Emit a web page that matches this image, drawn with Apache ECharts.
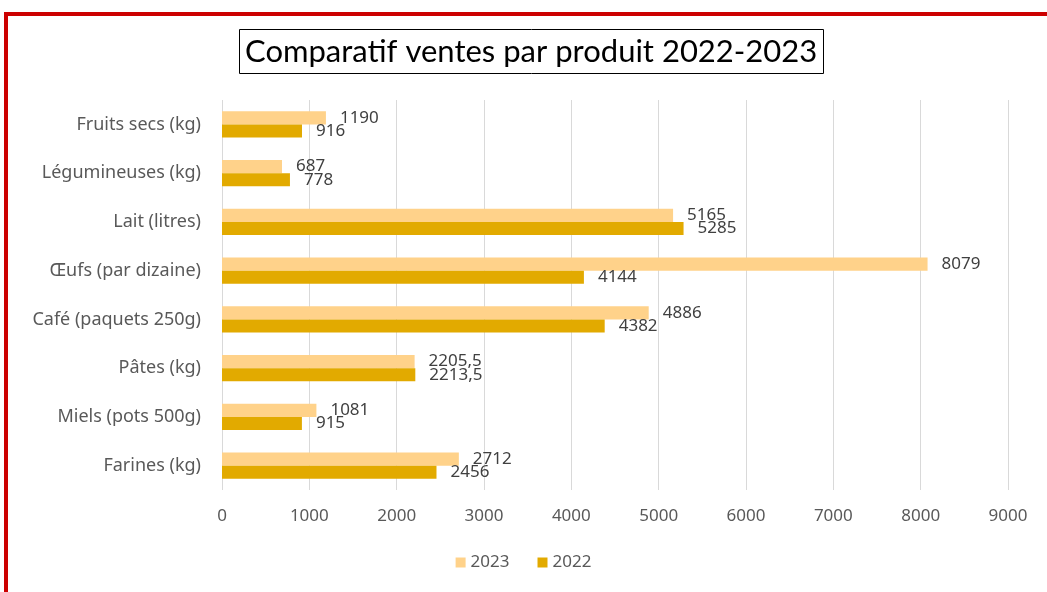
<!DOCTYPE html>
<html><head><meta charset="utf-8">
<script src="https://cdn.jsdelivr.net/npm/echarts@6/dist/echarts.min.js"></script>
<style>
html,body{margin:0;padding:0;background:#fff;}
#frame{position:absolute;left:4px;top:12px;width:1100px;height:700px;border:4px solid #cc0000;box-sizing:border-box;}
#chart{position:absolute;left:0;top:0;width:1047px;height:592px;}
</style></head>
<body>
<div id="frame"></div>
<div id="chart"></div>
<script>
const categories = ['Farines (kg)','Miels (pots 500g)','Pâtes (kg)','Café (paquets 250g)','Œufs (par dizaine)','Lait (litres)','Légumineuses (kg)','Fruits secs (kg)'];
const values2022 = [2456, 915, 2213.5, 4382, 4144, 5285, 778, 916];
const values2023 = [2712, 1081, 2205.5, 4886, 8079, 5165, 687, 1190];
const xTicks = [0,1000,2000,3000,4000,5000,6000,7000,8000,9000];

const chart = echarts.init(document.getElementById('chart'));
const lbl = {show:true, position:'right', distance:14, color:'#404040', fontSize:17, fontFamily:'Noto Sans',
  formatter: p => String(p.value).replace('.', ',')};
chart.setOption({
  backgroundColor:'transparent',
  title:{text:'Comparatif ventes par produit 2022-2023', left:239, top:29,
    borderColor:'#000', borderWidth:1, padding:[7,6,7,6],
    textStyle:{fontFamily:'Lato', fontWeight:'normal', fontSize:31, color:'#000'}},
  legend:{data:['2023','2022'], bottom:16, left:'center', itemWidth:10, itemHeight:10, itemGap:28, icon:'rect',
    textStyle:{fontFamily:'Noto Sans', fontSize:17, color:'#595959'}},
  grid:{left:222, right:39, top:100, bottom:102, containLabel:false},
  xAxis:{type:'value', min:xTicks[0], max:xTicks[xTicks.length-1], interval:1000,
    axisLine:{show:false}, axisTick:{show:false},
    splitLine:{lineStyle:{color:'#d9d9d9', width:1}},
    axisLabel:{fontFamily:'Noto Sans', fontSize:17, color:'#595959', margin:18, formatter: v => String(v)}},
  yAxis:{type:'category', data:categories,
    axisLine:{show:false}, axisTick:{show:false},
    axisLabel:{fontFamily:'Noto Sans', fontSize:18, color:'#595959', margin:21}},
  series:[
    {name:'2023', type:'bar', data:values2023, itemStyle:{color:'#FFD28A'}, barGap:'0%', barCategoryGap:'46%', label:lbl},
    {name:'2022', type:'bar', data:values2022, itemStyle:{color:'#E2AA00'}, barGap:'0%', barCategoryGap:'46%', label:lbl}
  ]
});
</script>
</body></html>
